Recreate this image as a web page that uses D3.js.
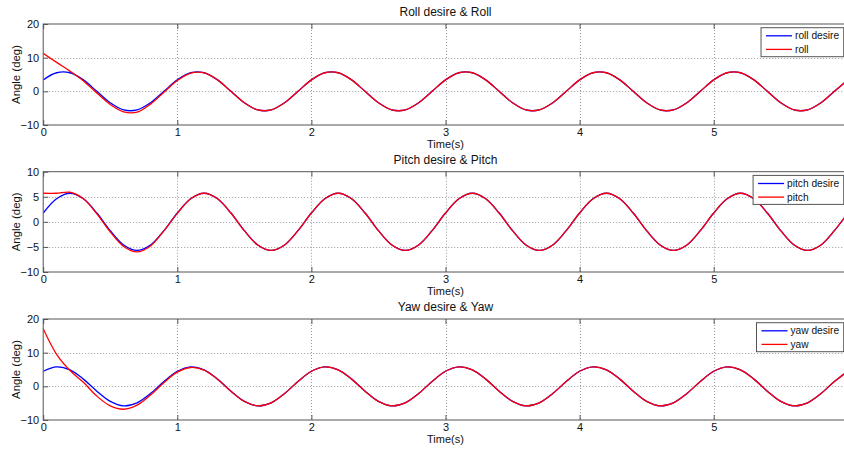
<!DOCTYPE html>
<html>
<head>
<meta charset="utf-8">
<script src="https://cdn.jsdelivr.net/npm/d3@7"></script>
<style>
  body { margin: 0; background: #fff; }
  text { font-family: "Liberation Sans", Arial, sans-serif; fill: #111; }
</style>
</head>
<body>
<div id="chart"></div>
<script>
const width = 844;
const height = 449;

// sample times (s)
const time = [
  0, 0.1, 0.2, 0.3, 0.4, 0.5, 0.6, 0.7, 0.8, 0.9,
  1, 1.1, 1.2, 1.3, 1.4, 1.5, 1.6, 1.7, 1.8, 1.9,
  2, 2.1, 2.2, 2.3, 2.4, 2.5, 2.6, 2.7, 2.8, 2.9,
  3, 3.1, 3.2, 3.3, 3.4, 3.5, 3.6, 3.7, 3.8, 3.9,
  4, 4.1, 4.2, 4.3, 4.4, 4.5, 4.6, 4.7, 4.8, 4.9,
  5, 5.1, 5.2, 5.3, 5.4, 5.5, 5.6, 5.7, 5.8, 5.9,
  6
];

const rollDesire = [
  3.41, 5.52, 5.52, 3.41, 0, -3.41, -5.52, -5.52, -3.41, 0,
  3.41, 5.52, 5.52, 3.41, 0, -3.41, -5.52, -5.52, -3.41, 0,
  3.41, 5.52, 5.52, 3.41, 0, -3.41, -5.52, -5.52, -3.41, 0,
  3.41, 5.52, 5.52, 3.41, 0, -3.41, -5.52, -5.52, -3.41, 0,
  3.41, 5.52, 5.52, 3.41, 0, -3.41, -5.52, -5.52, -3.41, 0,
  3.41, 5.52, 5.52, 3.41, 0, -3.41, -5.52, -5.52, -3.41, 0,
  3.41
];
const roll = [
  11.3, 8.6, 6.0, 3.1, -0.5, -3.9, -6.1, -6.2, -3.8, -0.3,
  3.2, 5.4, 5.5, 3.4, 0, -3.41, -5.52, -5.52, -3.41, 0,
  3.41, 5.52, 5.52, 3.41, 0, -3.41, -5.52, -5.52, -3.41, 0,
  3.41, 5.52, 5.52, 3.41, 0, -3.41, -5.52, -5.52, -3.41, 0,
  3.41, 5.52, 5.52, 3.41, 0, -3.41, -5.52, -5.52, -3.41, 0,
  3.41, 5.52, 5.52, 3.41, 0, -3.41, -5.52, -5.52, -3.41, 0,
  3.41
];

const pitchDesire = [
  1.76, 4.61, 5.7, 4.61, 1.76, -1.76, -4.61, -5.7, -4.61, -1.76,
  1.76, 4.61, 5.7, 4.61, 1.76, -1.76, -4.61, -5.7, -4.61, -1.76,
  1.76, 4.61, 5.7, 4.61, 1.76, -1.76, -4.61, -5.7, -4.61, -1.76,
  1.76, 4.61, 5.7, 4.61, 1.76, -1.76, -4.61, -5.7, -4.61, -1.76,
  1.76, 4.61, 5.7, 4.61, 1.76, -1.76, -4.61, -5.7, -4.61, -1.76,
  1.76, 4.61, 5.7, 4.61, 1.76, -1.76, -4.61, -5.7, -4.61, -1.76,
  1.76
];
const pitch = [
  5.7, 5.7, 5.9, 4.6, 1.6, -2.0, -4.9, -6.0, -4.8, -1.8,
  1.7, 4.6, 5.7, 4.61, 1.76, -1.76, -4.61, -5.7, -4.61, -1.76,
  1.76, 4.61, 5.7, 4.61, 1.76, -1.76, -4.61, -5.7, -4.61, -1.76,
  1.76, 4.61, 5.7, 4.61, 1.76, -1.76, -4.61, -5.7, -4.61, -1.76,
  1.76, 4.61, 5.7, 4.61, 1.76, -1.76, -4.61, -5.7, -4.61, -1.76,
  1.76, 4.61, 5.7, 4.61, 1.76, -1.76, -4.61, -5.7, -4.61, -1.76,
  1.76
];

const yawDesire = [
  4.47, 5.79, 4.9, 2.14, -1.44, -4.47, -5.79, -4.9, -2.14, 1.44,
  4.47, 5.79, 4.9, 2.14, -1.44, -4.47, -5.79, -4.9, -2.14, 1.44,
  4.47, 5.79, 4.9, 2.14, -1.44, -4.47, -5.79, -4.9, -2.14, 1.44,
  4.47, 5.79, 4.9, 2.14, -1.44, -4.47, -5.79, -4.9, -2.14, 1.44,
  4.47, 5.79, 4.9, 2.14, -1.44, -4.47, -5.79, -4.9, -2.14, 1.44,
  4.47, 5.79, 4.9, 2.14, -1.44, -4.47, -5.79, -4.9, -2.14, 1.44,
  4.47
];
const yaw = [
  17.1, 9.5, 4.7, 1.2, -2.9, -5.8, -6.8, -5.6, -2.6, 1.1,
  4.2, 5.6, 4.8, 2.1, -1.44, -4.47, -5.79, -4.9, -2.14, 1.44,
  4.47, 5.79, 4.9, 2.14, -1.44, -4.47, -5.79, -4.9, -2.14, 1.44,
  4.47, 5.79, 4.9, 2.14, -1.44, -4.47, -5.79, -4.9, -2.14, 1.44,
  4.47, 5.79, 4.9, 2.14, -1.44, -4.47, -5.79, -4.9, -2.14, 1.44,
  4.47, 5.79, 4.9, 2.14, -1.44, -4.47, -5.79, -4.9, -2.14, 1.44,
  4.47
];

const xTicks = [0, 1, 2, 3, 4, 5];
const rollTicks = [-10, 0, 10, 20];
const pitchTicks = [-10, -5, 0, 5, 10];
const yawTicks = [-10, 0, 10, 20];

const titles = ["Roll desire & Roll", "Pitch desire & Pitch", "Yaw desire & Yaw"];
const legendNames = [
  ["roll desire", "roll"],
  ["pitch desire", "pitch"],
  ["yaw desire", "yaw"],
];

const left = 43.2;
const right = 847.8;
const axisColor = "#555";

const panels = [
  { top: 24, bottom: 125, ticks: rollTicks, desire: rollDesire, actual: roll },
  { top: 171.7, bottom: 272, ticks: pitchTicks, desire: pitchDesire, actual: pitch },
  { top: 319, bottom: 420, ticks: yawTicks, desire: yawDesire, actual: yaw },
];

const svg = d3
  .select("#chart")
  .append("svg")
  .attr("width", width)
  .attr("height", height)
  .style("display", "block");

const xScale = d3.scaleLinear().domain([0, 6]).range([left, right]);

panels.forEach((p, i) => {
  const yExtent = d3.extent(p.ticks);
  const yScale = d3.scaleLinear().domain(yExtent).range([p.bottom, p.top]);
  const g = svg.append("g");

  g.append("rect")
    .attr("x", left)
    .attr("y", p.top)
    .attr("width", right - left)
    .attr("height", p.bottom - p.top)
    .attr("fill", "#fff");

  // dotted grid
  g.selectAll(".vgrid")
    .data(xTicks.filter((d) => d > 0))
    .join("line")
    .attr("x1", (d) => Math.round(xScale(d)) + 0.5)
    .attr("x2", (d) => Math.round(xScale(d)) + 0.5)
    .attr("y1", p.top)
    .attr("y2", p.bottom)
    .attr("stroke", "#9a9a9a")
    .attr("stroke-dasharray", "1,2");

  g.selectAll(".hgrid")
    .data(p.ticks.slice(1, -1))
    .join("line")
    .attr("x1", left)
    .attr("x2", right)
    .attr("y1", (d) => Math.round(yScale(d)) + 0.5)
    .attr("y2", (d) => Math.round(yScale(d)) + 0.5)
    .attr("stroke", "#9a9a9a")
    .attr("stroke-dasharray", "1,2");

  const clipId = `clip${i}`;
  svg.append("clipPath")
    .attr("id", clipId)
    .append("rect")
    .attr("x", left)
    .attr("y", p.top)
    .attr("width", right - left)
    .attr("height", p.bottom - p.top);

  const line = d3
    .line()
    .x((d, j) => xScale(time[j]))
    .y((d) => yScale(d))
    .curve(d3.curveCatmullRom);

  g.append("path")
    .attr("clip-path", `url(#${clipId})`)
    .attr("d", line(p.desire))
    .attr("fill", "none")
    .attr("stroke", "#0000ff")
    .attr("stroke-width", 1.3);

  g.append("path")
    .attr("clip-path", `url(#${clipId})`)
    .attr("d", line(p.actual))
    .attr("fill", "none")
    .attr("stroke", "#ff0000")
    .attr("stroke-width", 1.3);

  // axes with inward ticks, MATLAB style
  const xAxis = g
    .append("g")
    .attr("transform", `translate(0, ${p.bottom})`)
    .call(d3.axisBottom(xScale).tickValues(xTicks).tickSize(-5).tickPadding(3).tickFormat(d3.format("d")));
  const xAxisTop = g
    .append("g")
    .attr("transform", `translate(0, ${p.top})`)
    .call(d3.axisTop(xScale).tickValues(xTicks).tickSize(-5).tickFormat(""));
  const yAxis = g
    .append("g")
    .attr("transform", `translate(${left}, 0)`)
    .call(d3.axisLeft(yScale).tickValues(p.ticks).tickSize(-5).tickPadding(4).tickFormat(d3.format("d")));

  [xAxis, xAxisTop, yAxis].forEach((a) => {
    a.select(".domain").remove();
    a.selectAll("line").attr("stroke", axisColor);
    a.selectAll("text").style("font-size", "11px").attr("fill", "#111");
  });

  g.append("rect")
    .attr("x", left)
    .attr("y", p.top)
    .attr("width", right - left)
    .attr("height", p.bottom - p.top)
    .attr("fill", "none")
    .attr("stroke", axisColor)
    .attr("stroke-width", 1);

  g.append("text")
    .attr("x", (left + right) / 2)
    .attr("y", p.top - 8)
    .attr("text-anchor", "middle")
    .style("font-size", "12px")
    .text(titles[i]);

  g.append("text")
    .attr("x", (left + right) / 2)
    .attr("y", p.bottom + 23)
    .attr("text-anchor", "middle")
    .style("font-size", "11px")
    .text("Time(s)");

  g.append("text")
    .attr("transform", `translate(20, ${(p.top + p.bottom) / 2}) rotate(-90)`)
    .attr("text-anchor", "middle")
    .style("font-size", "11.4px")
    .text("Angle (deg)");

  // legend
  const legend = g.append("g");
  const box = legend.append("rect")
    .attr("fill", "#fff")
    .attr("stroke", axisColor);
  const labels = legend
    .selectAll("text")
    .data(legendNames[i])
    .join("text")
    .attr("y", (d, k) => p.top + 11.8 + k * 13.6)
    .attr("dy", "0.35em")
    .style("font-size", "10.2px")
    .text((d) => d);
  const textW = d3.max(labels.nodes(), (n) => n.getComputedTextLength());
  const boxRight = 843.7;
  const boxLeft = boxRight - (textW + 38.5);
  box.attr("x", boxLeft)
    .attr("y", p.top + 3.7)
    .attr("width", boxRight - boxLeft)
    .attr("height", 29);
  labels.attr("x", boxLeft + 34);
  legend
    .selectAll("line")
    .data(["#0000ff", "#ff0000"])
    .join("line")
    .attr("x1", boxLeft + 5)
    .attr("x2", boxLeft + 31)
    .attr("y1", (d, k) => p.top + 11.8 + k * 13.6)
    .attr("y2", (d, k) => p.top + 11.8 + k * 13.6)
    .attr("stroke", (d) => d)
    .attr("stroke-width", 1.3);
});
</script>
</body>
</html>
